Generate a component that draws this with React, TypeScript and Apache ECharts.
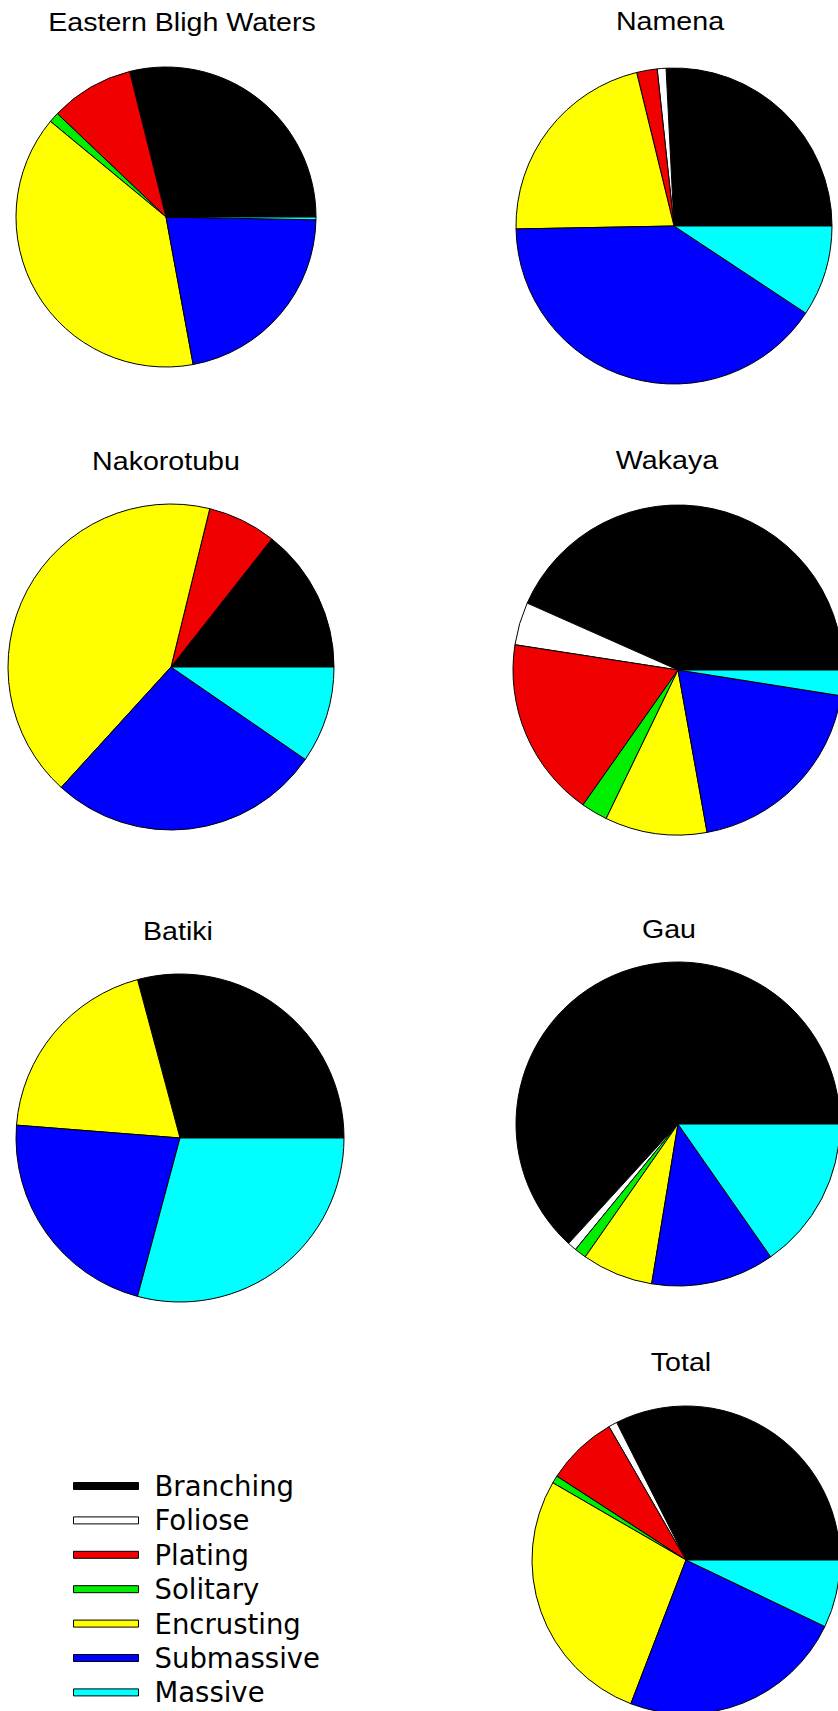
import React, { useEffect, useRef } from "react";
import * as echarts from "echarts";

// ---- data (percent cover of each growth form) ----
const categories = ["Branching", "Foliose", "Plating", "Solitary", "Encrusting", "Submassive", "Massive"];
const sites = ["Eastern Bligh Waters", "Namena", "Nakorotubu", "Wakaya", "Batiki", "Gau", "Total"];
const easternBligh = [28.9, 0, 9.0, 1.1, 38.9, 21.8, 0.3];
const namena = [25.8, 0.9, 2.1, 0, 21.5, 40.4, 9.3];
const nakorotubu = [14.4, 0, 6.8, 0, 42.1, 27.2, 9.6];
const wakaya = [43.4, 4.2, 17.7, 2.6, 10.0, 19.7, 2.5];
const batiki = [29.2, 0, 0, 0, 19.6, 22.1, 29.2];
const gau = [63.2, 0.9, 0, 1.2, 7.1, 12.3, 15.3];
const total = [32.4, 0.9, 7.5, 0.8, 27.5, 23.7, 7.1];
const siteValues = [easternBligh, namena, nakorotubu, wakaya, batiki, gau, total];

// ---- styles & layout ----
const colors = ["#000000", "#ffffff", "#f00000", "#00ee00", "#ffff00", "#0000ff", "#00ffff"];
const pieCenters = [[166, 217], [674, 226], [171, 667], [678, 670], [180, 1138], [678, 1124], [686, 1560]];
const pieRadii = [150, 158, 163, 165, 164, 162, 154];
const titlePos = [[182, 21.5], [670, 21], [166, 461], [667, 460], [178, 931], [669, 929], [681, 1362]];

export default function App() {
  const ref = useRef<HTMLDivElement>(null);
  useEffect(() => {
    if (!ref.current) return;
    const chart = echarts.init(ref.current, null, { renderer: "svg" });
    const series = sites.map((site, i) => ({
      type: "pie",
      name: site,
      center: pieCenters[i],
      radius: [0, pieRadii[i]],
      startAngle: 0,
      clockwise: false,
      silent: true,
      label: { show: false },
      labelLine: { show: false },
      emphasis: { disabled: true },
      itemStyle: { borderColor: "#000", borderWidth: 1 },
      data: categories
        .map((c, k) => ({ name: c, value: siteValues[i][k], itemStyle: { color: colors[k] } }))
        .filter((d) => d.value > 0),
    }));
    const graphics = sites.map((site, i) => ({
      type: "text",
      x: titlePos[i][0],
      y: titlePos[i][1],
      scaleX: 1.1,
      silent: true,
      style: {
        text: site,
        fontFamily: "'Liberation Sans', Arial, sans-serif",
        fontSize: 26,
        fill: "#000",
        align: "center",
        verticalAlign: "middle",
      },
    }));
    chart.setOption({
      animation: false,
      backgroundColor: "#fff",
      legend: {
        orient: "vertical",
        left: 73,
        top: 1469,
        padding: 0,
        itemGap: 0.4,
        itemWidth: 65,
        itemHeight: 7,
        icon: "rect",
        selectedMode: false,
        data: categories,
        itemStyle: { borderColor: "#000", borderWidth: 1 },
        textStyle: {
          fontFamily: "'DejaVu Sans', Verdana, sans-serif",
          fontSize: 27.5,
          color: "#000",
          lineHeight: 34,
          padding: [0, 0, 0, 11],
        },
      },
      series,
      graphic: graphics,
    });
    return () => chart.dispose();
  }, []);
  return (
    <div
      ref={ref}
      style={{ position: "absolute", left: 0, top: 0, width: 838, height: 1711, background: "#fff" }}
    />
  );
}
